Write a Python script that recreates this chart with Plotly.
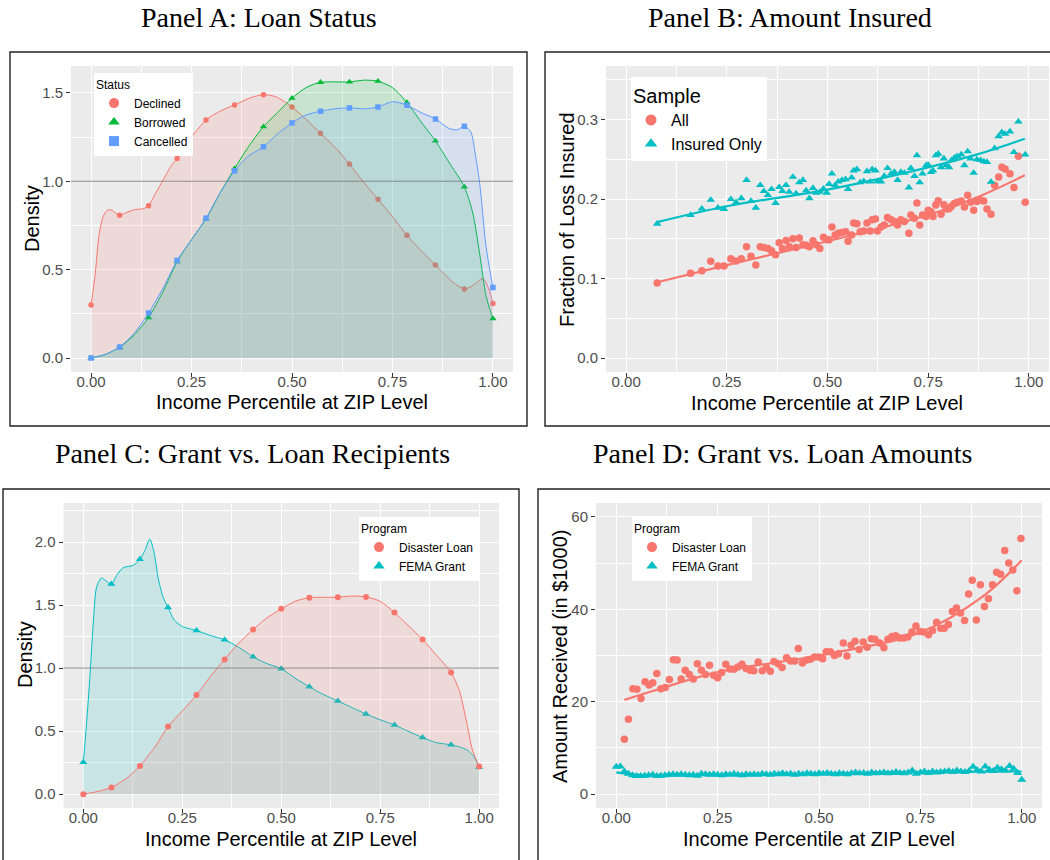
import plotly.graph_objects as go

W, H = 1050, 860
RED, GREEN, BLUE, TEAL = "#F8766D", "#00BA38", "#619CFF", "#00BFC4"
SANS = "Liberation Sans, Arial, sans-serif"
SERIF = "Liberation Serif, Times New Roman, serif"

# ---------------- Panel A: Loan Status (density) ----------------
a_mark_x = [0.0, 0.071, 0.143, 0.214, 0.286, 0.357, 0.429, 0.5, 0.571, 0.643, 0.714, 0.786, 0.857, 0.929, 1.0]
a_declined_mark = [0.30, 0.808, 0.861, 1.129, 1.347, 1.432, 1.490, 1.420, 1.271, 1.097, 0.898, 0.694, 0.526, 0.391, 0.308]
a_borrowed_mark = [0.0, 0.061, 0.229, 0.545, 0.787, 1.072, 1.309, 1.470, 1.560, 1.562, 1.566, 1.445, 1.228, 0.968, 0.223]
a_cancelled_mark = [0.0, 0.062, 0.255, 0.552, 0.791, 1.059, 1.195, 1.330, 1.396, 1.415, 1.420, 1.430, 1.352, 1.311, 0.399]

a_declined_x = [0.000, 0.010, 0.020, 0.030, 0.040, 0.050, 0.060, 0.071, 0.090, 0.110, 0.130, 0.143, 0.160, 0.180,
                0.200, 0.214, 0.250, 0.286, 0.320, 0.357, 0.400, 0.429, 0.460, 0.500, 0.535, 0.571, 0.610, 0.643,
                0.680, 0.714, 0.750, 0.786, 0.820, 0.857, 0.900, 0.929, 0.950, 0.975, 0.990, 1.000]
a_declined_y = [0.30, 0.47, 0.70, 0.80, 0.835, 0.838, 0.822, 0.808, 0.825, 0.84, 0.845, 0.861, 0.93, 1.01,
                1.09, 1.129, 1.25, 1.347, 1.395, 1.432, 1.475, 1.490, 1.478, 1.420, 1.35, 1.271, 1.185, 1.097,
                0.99, 0.898, 0.80, 0.694, 0.61, 0.526, 0.43, 0.391, 0.41, 0.45, 0.39, 0.308]
a_borrowed_x = [0.0, 0.035, 0.071, 0.107, 0.143, 0.18, 0.214, 0.25, 0.286, 0.32, 0.357, 0.39, 0.429, 0.46, 0.5,
                0.535, 0.571, 0.607, 0.643, 0.68, 0.714, 0.75, 0.786, 0.82, 0.857, 0.89, 0.929, 0.95, 0.967,
                0.983, 1.0]
a_borrowed_y = [0.0, 0.02, 0.061, 0.13, 0.229, 0.38, 0.545, 0.67, 0.787, 0.93, 1.072, 1.19, 1.309, 1.38, 1.470,
                1.53, 1.560, 1.562, 1.562, 1.572, 1.566, 1.53, 1.445, 1.34, 1.228, 1.11, 0.968, 0.82, 0.59,
                0.35, 0.223]
a_cancelled_x = [0.0, 0.035, 0.071, 0.107, 0.143, 0.18, 0.214, 0.25, 0.286, 0.32, 0.357, 0.39, 0.429, 0.46, 0.5,
                 0.535, 0.571, 0.607, 0.643, 0.68, 0.714, 0.75, 0.786, 0.82, 0.857, 0.89, 0.91, 0.929, 0.945,
                 0.955, 0.967, 0.983, 1.0]
a_cancelled_y = [0.0, 0.02, 0.062, 0.14, 0.255, 0.40, 0.552, 0.67, 0.791, 0.93, 1.059, 1.14, 1.195, 1.26, 1.330,
                 1.375, 1.396, 1.41, 1.415, 1.41, 1.420, 1.45, 1.430, 1.39, 1.352, 1.30, 1.29, 1.311, 1.28,
                 1.17, 0.99, 0.63, 0.399]

# ---------------- Panel B: Amount Insured ----------------
b_x = [0.077, 0.160, 0.188, 0.210, 0.228, 0.243, 0.260, 0.273, 0.286, 0.299, 0.310, 0.322, 0.333, 0.342, 0.352,
       0.361, 0.371, 0.380, 0.388, 0.397, 0.405, 0.414, 0.422, 0.430, 0.439, 0.447, 0.455, 0.464, 0.472, 0.481,
       0.490, 0.498, 0.504, 0.511, 0.519, 0.527, 0.536, 0.545, 0.551, 0.560, 0.565, 0.573, 0.581, 0.590, 0.598,
       0.606, 0.611, 0.619, 0.624, 0.633, 0.641, 0.649, 0.658, 0.666, 0.674, 0.682, 0.691, 0.702, 0.707, 0.716,
       0.722, 0.729, 0.736, 0.745, 0.750, 0.757, 0.762, 0.769, 0.775, 0.782, 0.789, 0.795, 0.802, 0.808, 0.815,
       0.822, 0.832, 0.840, 0.848, 0.855, 0.863, 0.871, 0.880, 0.888, 0.896, 0.906, 0.915, 0.925, 0.933, 0.941,
       0.953, 0.963, 0.974, 0.991]
b_all = [0.0946, 0.1067, 0.110, 0.1217, 0.116, 0.116, 0.125, 0.122, 0.125, 0.140, 0.128, 0.117, 0.140, 0.139, 0.138,
         0.135, 0.130, 0.145, 0.1375, 0.148, 0.140, 0.150, 0.139, 0.151, 0.1425, 0.142, 0.140, 0.1475, 0.1425, 0.138,
         0.152, 0.149, 0.149, 0.165, 0.155, 0.157, 0.158, 0.159, 0.147, 0.155, 0.170, 0.169, 0.159, 0.160, 0.170,
         0.160, 0.174, 0.175, 0.160, 0.165, 0.1675, 0.177, 0.174, 0.172, 0.1675, 0.174, 0.172, 0.157, 0.180, 0.176,
         0.195, 0.1675, 0.180, 0.178, 0.186, 0.184, 0.178, 0.1925, 0.198, 0.181, 0.193, 0.1875, 0.188, 0.191, 0.1945,
         0.196, 0.1975, 0.190, 0.205, 0.196, 0.186, 0.197, 0.199, 0.1975, 0.1875, 0.181, 0.2175, 0.228, 0.240, 0.238,
         0.232, 0.2146, 0.254, 0.196]
b_insured = [0.169, 0.180, 0.188, 0.199, 0.189, 0.1875, 0.200, 0.196, 0.201, 0.224, 0.1975, 0.189, 0.2175, 0.210, 0.205,
             0.2125, 0.195, 0.215, 0.210, 0.2175, 0.209, 0.228, 0.207, 0.221, 0.224, 0.211, 0.201, 0.214, 0.208, 0.209,
             0.213, 0.208, 0.219, 0.232, 0.2175, 0.222, 0.224, 0.225, 0.2125, 0.227, 0.236, 0.2375, 0.221, 0.2225, 0.235,
             0.222, 0.2375, 0.236, 0.2225, 0.222, 0.229, 0.239, 0.232, 0.234, 0.224, 0.234, 0.233, 0.2146, 0.239, 0.229,
             0.255, 0.221, 0.232, 0.2425, 0.243, 0.234, 0.236, 0.255, 0.257, 0.240, 0.251, 0.2425, 0.240, 0.249, 0.252,
             0.254, 0.256, 0.2425, 0.260, 0.251, 0.233, 0.250, 0.249, 0.2475, 0.2467, 0.2217, 0.264, 0.279, 0.284, 0.282,
             0.285, 0.259, 0.2975, 0.256]
b_fit_x = [0.077, 0.25, 0.5, 0.75, 0.87, 0.99]
b_fit_all = [0.0954, 0.117, 0.147, 0.180, 0.202, 0.230]
b_fit_insured = [0.171, 0.191, 0.212, 0.240, 0.256, 0.276]

# ---------------- Panel C: Grant vs. Loan Recipients ----------------
c_mark_x = a_mark_x
c_loan_mark = [0.0, 0.053, 0.224, 0.536, 0.786, 1.069, 1.306, 1.470, 1.559, 1.562, 1.565, 1.441, 1.227, 0.966, 0.219]
c_grant_mark = [0.253, 1.668, 1.863, 1.480, 1.298, 1.224, 1.090, 0.995, 0.852, 0.739, 0.636, 0.549, 0.449, 0.391, 0.214]
c_loan_x = a_borrowed_x
c_loan_y = [0.0, 0.02, 0.053, 0.12, 0.224, 0.37, 0.536, 0.66, 0.786, 0.93, 1.069, 1.19, 1.306, 1.39, 1.470,
            1.53, 1.559, 1.562, 1.562, 1.572, 1.565, 1.53, 1.441, 1.34, 1.227, 1.11, 0.966, 0.82, 0.59,
            0.35, 0.219]
c_grant_x = [0.0, 0.008, 0.017, 0.025, 0.034, 0.046, 0.058, 0.071, 0.085, 0.101, 0.126, 0.143, 0.155, 0.168, 0.178,
             0.19, 0.202, 0.214, 0.23, 0.25, 0.286, 0.32, 0.357, 0.39, 0.429, 0.46, 0.5, 0.535, 0.571, 0.607,
             0.643, 0.68, 0.714, 0.75, 0.786, 0.82, 0.857, 0.89, 0.929, 0.95, 0.969, 0.986, 1.0]
c_grant_y = [0.253, 0.55, 0.95, 1.35, 1.65, 1.715, 1.69, 1.668, 1.74, 1.797, 1.815, 1.863, 1.93, 2.024, 1.93,
             1.70, 1.56, 1.48, 1.38, 1.33, 1.298, 1.26, 1.224, 1.17, 1.090, 1.04, 0.995, 0.92, 0.852, 0.79,
             0.739, 0.685, 0.636, 0.59, 0.549, 0.50, 0.449, 0.41, 0.391, 0.375, 0.351, 0.30, 0.214]

# ---------------- Panel D: Grant vs. Loan Amounts ----------------
d_loan_x = [0.020, 0.030, 0.041, 0.051, 0.061, 0.071, 0.081, 0.090, 0.100, 0.110, 0.121, 0.131, 0.141, 0.150, 0.160,
            0.170, 0.180, 0.190, 0.200, 0.210, 0.220, 0.230, 0.240, 0.250, 0.260, 0.270, 0.280, 0.290, 0.300, 0.310,
            0.320, 0.330, 0.339, 0.350, 0.360, 0.370, 0.380, 0.389, 0.399, 0.409, 0.420, 0.430, 0.440, 0.449, 0.459,
            0.469, 0.479, 0.489, 0.499, 0.509, 0.518, 0.528, 0.538, 0.548, 0.560, 0.569, 0.579, 0.589, 0.599, 0.609,
            0.619, 0.629, 0.638, 0.650, 0.660, 0.670, 0.680, 0.689, 0.699, 0.709, 0.719, 0.729, 0.739, 0.749, 0.758,
            0.770, 0.780, 0.790, 0.800, 0.809, 0.819, 0.829, 0.839, 0.849, 0.859, 0.869, 0.878, 0.888, 0.898, 0.908,
            0.918, 0.928, 0.938, 0.948, 0.958, 0.968, 0.978, 0.988, 0.998]
d_loan_y = [11.9, 16.2, 22.8, 22.7, 20.7, 24.3, 23.6, 24.1, 26.1, 22.8, 23.1, 24.8, 29.1, 29.0, 24.9,
            26.8, 25.9, 24.9, 28.2, 26.8, 25.9, 27.9, 25.7, 25.2, 26.3, 28.1, 27.1, 27.0, 27.5, 28.1,
            27.2, 26.8, 26.7, 28.6, 26.7, 27.4, 26.6, 28.7, 28.2, 27.4, 29.5, 28.8, 28.8, 31.5, 28.4,
            29.0, 29.2, 29.7, 29.7, 29.3, 30.8, 30.8, 30.0, 30.4, 32.7, 29.9, 32.2, 33.1, 31.3, 32.9,
            31.8, 33.6, 33.5, 32.7, 31.7, 33.5, 34.1, 34.3, 33.8, 33.8, 34.0, 35.1, 36.4, 35.2, 35.1,
            34.5, 35.4, 37.2, 35.9, 35.9, 36.7, 39.5, 40.3, 39.2, 37.6, 43.3, 46.3, 37.7, 45.3, 40.6,
            42.3, 45.3, 48.0, 47.6, 52.7, 50.0, 48.5, 44.0, 55.3]
d_grant_x = [0.00, 0.01, 0.02, 0.03, 0.04, 0.05, 0.06, 0.07, 0.08, 0.09, 0.10, 0.11, 0.12, 0.13, 0.14, 0.15, 0.16,
             0.17, 0.18, 0.19, 0.20, 0.21, 0.22, 0.23, 0.24, 0.25, 0.26, 0.27, 0.28, 0.29, 0.30, 0.31, 0.32, 0.33,
             0.34, 0.35, 0.36, 0.37, 0.38, 0.39, 0.40, 0.41, 0.42, 0.43, 0.44, 0.45, 0.46, 0.47, 0.48, 0.49, 0.50,
             0.51, 0.52, 0.53, 0.54, 0.55, 0.56, 0.57, 0.58, 0.59, 0.60, 0.61, 0.62, 0.63, 0.64, 0.65, 0.66, 0.67,
             0.68, 0.69, 0.70, 0.71, 0.72, 0.73, 0.74, 0.75, 0.76, 0.77, 0.78, 0.79, 0.80, 0.81, 0.82, 0.83, 0.84,
             0.85, 0.86, 0.87, 0.88, 0.89, 0.90, 0.91, 0.92, 0.93, 0.94, 0.95, 0.96, 0.97, 0.98, 0.99, 1.00]
d_grant_y = [5.9, 6.0, 4.9, 4.4, 4.1, 3.9, 3.9, 4.0, 4.1, 4.2, 3.9, 4.0, 4.1, 4.2, 4.3, 4.2, 4.3,
             4.2, 4.1, 4.2, 4.0, 4.4, 4.3, 4.2, 4.3, 4.2, 4.1, 4.3, 4.2, 4.4, 4.2, 4.1, 4.3, 4.2,
             4.3, 4.2, 4.4, 4.3, 4.2, 4.4, 4.3, 4.5, 4.3, 4.4, 4.2, 4.4, 4.3, 4.5, 4.4, 4.3, 4.5,
             4.4, 4.6, 4.4, 4.3, 4.5, 4.4, 4.3, 4.5, 4.7, 4.5, 4.6, 4.4, 4.7, 4.5, 4.6, 4.7, 4.5,
             4.6, 4.8, 4.6, 4.5, 4.7, 5.1, 4.4, 4.7, 4.9, 4.6, 4.9, 4.7, 4.8, 4.9, 5.0, 4.8, 5.1,
             4.9, 4.8, 5.0, 5.9, 5.2, 4.9, 6.0, 5.3, 5.0, 5.7, 5.4, 5.1, 6.1, 5.5, 4.6, 3.1]
d_fit_loan_x = [0.02, 0.1, 0.25, 0.5, 0.75, 0.9, 1.0]
d_fit_loan_y = [20.4, 22.6, 26.4, 30.0, 35.0, 42.5, 50.6]
d_fit_grant_x = [0.0, 0.05, 0.2, 0.5, 0.8, 1.0]
d_fit_grant_y = [4.7, 4.2, 4.1, 4.4, 4.8, 4.9]


def px(x):
    return x / W


def py(y):
    return 1 - y / H


def rgba(hexc, a):
    h = hexc.lstrip("#")
    return "rgba(%d,%d,%d,%.2f)" % (int(h[0:2], 16), int(h[2:4], 16), int(h[4:6], 16), a)


fig = go.Figure()


def density(xs, ys, mx, my, color, sym, msize, name, xa, ya, leg):
    fig.add_trace(go.Scatter(x=xs, y=ys, mode="lines", line=dict(color=color, width=1, shape="spline", smoothing=0.7),
                             fill="tozeroy", fillcolor=rgba(color, 0.15), showlegend=False, hoverinfo="skip",
                             xaxis=xa, yaxis=ya))
    fig.add_trace(go.Scatter(x=mx, y=my, mode="markers", marker=dict(color=color, symbol=sym, size=msize),
                             showlegend=False, xaxis=xa, yaxis=ya))
    fig.add_trace(go.Scatter(x=[None], y=[None], mode="markers", name=name,
                             marker=dict(color=color, symbol=sym, size=10), legend=leg, xaxis=xa, yaxis=ya))


# Panel A
density(a_declined_x, a_declined_y, a_mark_x, a_declined_mark, RED, "circle", 5.5, "Declined", "x", "y", "legend")
density(a_borrowed_x, a_borrowed_y, a_mark_x, a_borrowed_mark, GREEN, "triangle-up", 6.5, "Borrowed", "x", "y", "legend")
density(a_cancelled_x, a_cancelled_y, a_mark_x, a_cancelled_mark, BLUE, "square", 5.5, "Cancelled", "x", "y", "legend")

# Panel B
for yy, fit, color, sym, name in [(b_all, b_fit_all, RED, "circle", "All"),
                                  (b_insured, b_fit_insured, TEAL, "triangle-up", "Insured Only")]:
    fig.add_trace(go.Scatter(x=b_x, y=yy, mode="markers", marker=dict(color=color, symbol=sym, size=7.5),
                             showlegend=False, xaxis="x2", yaxis="y2"))
    fig.add_trace(go.Scatter(x=b_fit_x, y=fit, mode="lines", line=dict(color=color, width=2.2, shape="spline"),
                             showlegend=False, hoverinfo="skip", xaxis="x2", yaxis="y2"))
    fig.add_trace(go.Scatter(x=[None], y=[None], mode="markers", name=name,
                             marker=dict(color=color, symbol=sym, size=11), legend="legend2", xaxis="x2", yaxis="y2"))

# Panel C
density(c_grant_x, c_grant_y, c_mark_x, c_grant_mark, TEAL, "triangle-up", 7, "FEMA Grant", "x3", "y3", "legend3")
density(c_loan_x, c_loan_y, c_mark_x, c_loan_mark, RED, "circle", 6, "Disaster Loan", "x3", "y3", "legend3")

# Panel D
fig.add_trace(go.Scatter(x=d_loan_x, y=d_loan_y, mode="markers", marker=dict(color=RED, symbol="circle", size=7.5),
                         showlegend=False, xaxis="x4", yaxis="y4"))
fig.add_trace(go.Scatter(x=d_grant_x, y=d_grant_y, mode="markers",
                         marker=dict(color=TEAL, symbol="triangle-up", size=8),
                         showlegend=False, xaxis="x4", yaxis="y4"))
fig.add_trace(go.Scatter(x=d_fit_loan_x, y=d_fit_loan_y, mode="lines", line=dict(color=RED, width=2.2, shape="spline"),
                         showlegend=False, hoverinfo="skip", xaxis="x4", yaxis="y4"))
fig.add_trace(go.Scatter(x=d_fit_grant_x, y=d_fit_grant_y, mode="lines", line=dict(color=TEAL, width=2.2, shape="spline"),
                         showlegend=False, hoverinfo="skip", xaxis="x4", yaxis="y4"))
for color, sym, name in [(RED, "circle", "Disaster Loan"), (TEAL, "triangle-up", "FEMA Grant")]:
    fig.add_trace(go.Scatter(x=[None], y=[None], mode="markers", name=name,
                             marker=dict(color=color, symbol=sym, size=10), legend="legend4", xaxis="x4", yaxis="y4"))

# ---------------- Axes ----------------
tickfont = dict(family=SANS, size=15, color="#4D4D4D")


def xaxis(dom, anchor):
    return dict(domain=dom, anchor=anchor, range=[-0.05, 1.05], tickvals=[0, 0.25, 0.5, 0.75, 1.0],
                ticktext=["0.00", "0.25", "0.50", "0.75", "1.00"], ticks="outside", ticklen=4,
                tickcolor="#333333", tickwidth=1, tickfont=tickfont, showgrid=True, gridcolor="white",
                gridwidth=1.1, zeroline=False, showline=False, ticklabelstandoff=-8,
                minor=dict(tickvals=[0.125, 0.375, 0.625, 0.875], showgrid=True, gridcolor="white", gridwidth=0.5))


def yaxis(dom, anchor, rng, tv, tt, mv):
    return dict(domain=dom, anchor=anchor, range=rng, tickvals=tv, ticktext=tt, ticks="outside", ticklen=4,
                tickcolor="#333333", tickwidth=1, tickfont=tickfont, showgrid=True, gridcolor="white",
                gridwidth=1.1, zeroline=False, showline=False,
                minor=dict(tickvals=mv, showgrid=True, gridcolor="white", gridwidth=0.5))


yA = [py(372), py(66)]
yC = [py(808), py(503)]
fig.update_layout(
    xaxis=xaxis([px(71), px(513)], "y"),
    yaxis=yaxis(yA, "x", [-0.079, 1.652], [0, 0.5, 1.0, 1.5], ["0.0", "0.5", "1.0", "1.5"], [0.25, 0.75, 1.25]),
    xaxis2=xaxis([px(606), px(1049)], "y2"),
    yaxis2=yaxis(yA, "x2", [-0.0175, 0.3675], [0, 0.1, 0.2, 0.3], ["0.0", "0.1", "0.2", "0.3"],
                 [0.05, 0.15, 0.25, 0.35]),
    xaxis3=xaxis([px(63.5), px(499)], "y3"),
    yaxis3=yaxis(yC, "x3", [-0.11, 2.31], [0, 0.5, 1.0, 1.5, 2.0], ["0.0", "0.5", "1.0", "1.5", "2.0"],
                 [0.25, 0.75, 1.25, 1.75, 2.25]),
    xaxis4=xaxis([px(596), px(1042)], "y4"),
    yaxis4=yaxis(yC, "x4", [-3, 63], [0, 20, 40, 60], ["0", "20", "40", "60"], [10, 30, 50]),
)

fig.update_layout(
    width=W, height=H, margin=dict(l=0, r=0, t=0, b=0),
    paper_bgcolor="white", plot_bgcolor="#EBEBEB",
    font=dict(family=SANS, color="black"),
    hovermode=False,
)

legend_common = dict(xanchor="left", yanchor="top", bgcolor="white", borderwidth=0, tracegroupgap=0,
                     itemwidth=30, itemclick=False, itemdoubleclick=False)
fig.update_layout(
    legend=dict(x=px(94), y=py(73), font=dict(size=12, family=SANS, color="black"),
                title=dict(text="Status", font=dict(size=12, family=SANS, color="black")), **legend_common),
    legend2=dict(x=px(631), y=py(77), font=dict(size=16, family=SANS, color="black"),
                 title=dict(text="Sample", font=dict(size=20, family=SANS, color="black")), **legend_common),
    legend3=dict(x=px(359), y=py(517), font=dict(size=12, family=SANS, color="black"), traceorder="reversed",
                 title=dict(text="Program", font=dict(size=12, family=SANS, color="black")), **legend_common),
    legend4=dict(x=px(632), y=py(517), font=dict(size=12, family=SANS, color="black"),
                 title=dict(text="Program", font=dict(size=12, family=SANS, color="black")), **legend_common),
)

# ---------------- Shapes: panel boxes and reference lines ----------------
shapes = []
for (x0, y0, x1, y1) in [(10, 52, 527, 426), (545, 52, 1053, 426), (3, 489, 519, 863), (538, 489, 1053, 863)]:
    shapes.append(dict(type="rect", xref="paper", yref="paper", x0=px(x0), x1=px(x1), y0=py(y0), y1=py(y1),
                       line=dict(color="#222222", width=1.4), fillcolor="rgba(0,0,0,0)", layer="above"))
for xr, yr in [("x domain", "y"), ("x3 domain", "y3")]:
    shapes.append(dict(type="line", xref=xr, yref=yr, x0=0, x1=1, y0=1, y1=1,
                       line=dict(color="rgba(120,120,120,0.85)", width=1), layer="above"))
fig.update_layout(shapes=shapes)

# ---------------- Annotations: panel titles and axis titles ----------------
ann = []
for text, x, y in [("Panel A: Loan Status", 259, 18), ("Panel B: Amount Insured", 790, 18),
                   ("Panel C: Grant vs. Loan Recipients", 252, 453), ("Panel D: Grant vs. Loan Amounts", 783, 453)]:
    ann.append(dict(text=text, x=px(x), y=py(y), xref="paper", yref="paper", showarrow=False,
                    xanchor="center", yanchor="middle", font=dict(family=SERIF, size=28, color="black")))
for x, y in [(292, 402), (827, 403), (281, 839), (819, 839)]:
    ann.append(dict(text="Income Percentile at ZIP Level", x=px(x), y=py(y), xref="paper", yref="paper",
                    showarrow=False, xanchor="center", yanchor="middle",
                    font=dict(family=SANS, size=20, color="black")))
for text, x, y in [("Density", 32, 219), ("Fraction of Loss Insured", 567, 220), ("Density", 25, 655),
                   ("Amount Received (in $1000)", 560, 657)]:
    ann.append(dict(text=text, x=px(x), y=py(y), xref="paper", yref="paper", showarrow=False, textangle=-90,
                    xanchor="center", yanchor="middle", font=dict(family=SANS, size=20, color="black")))
fig.update_layout(annotations=ann)

fig.write_html("out.html")
